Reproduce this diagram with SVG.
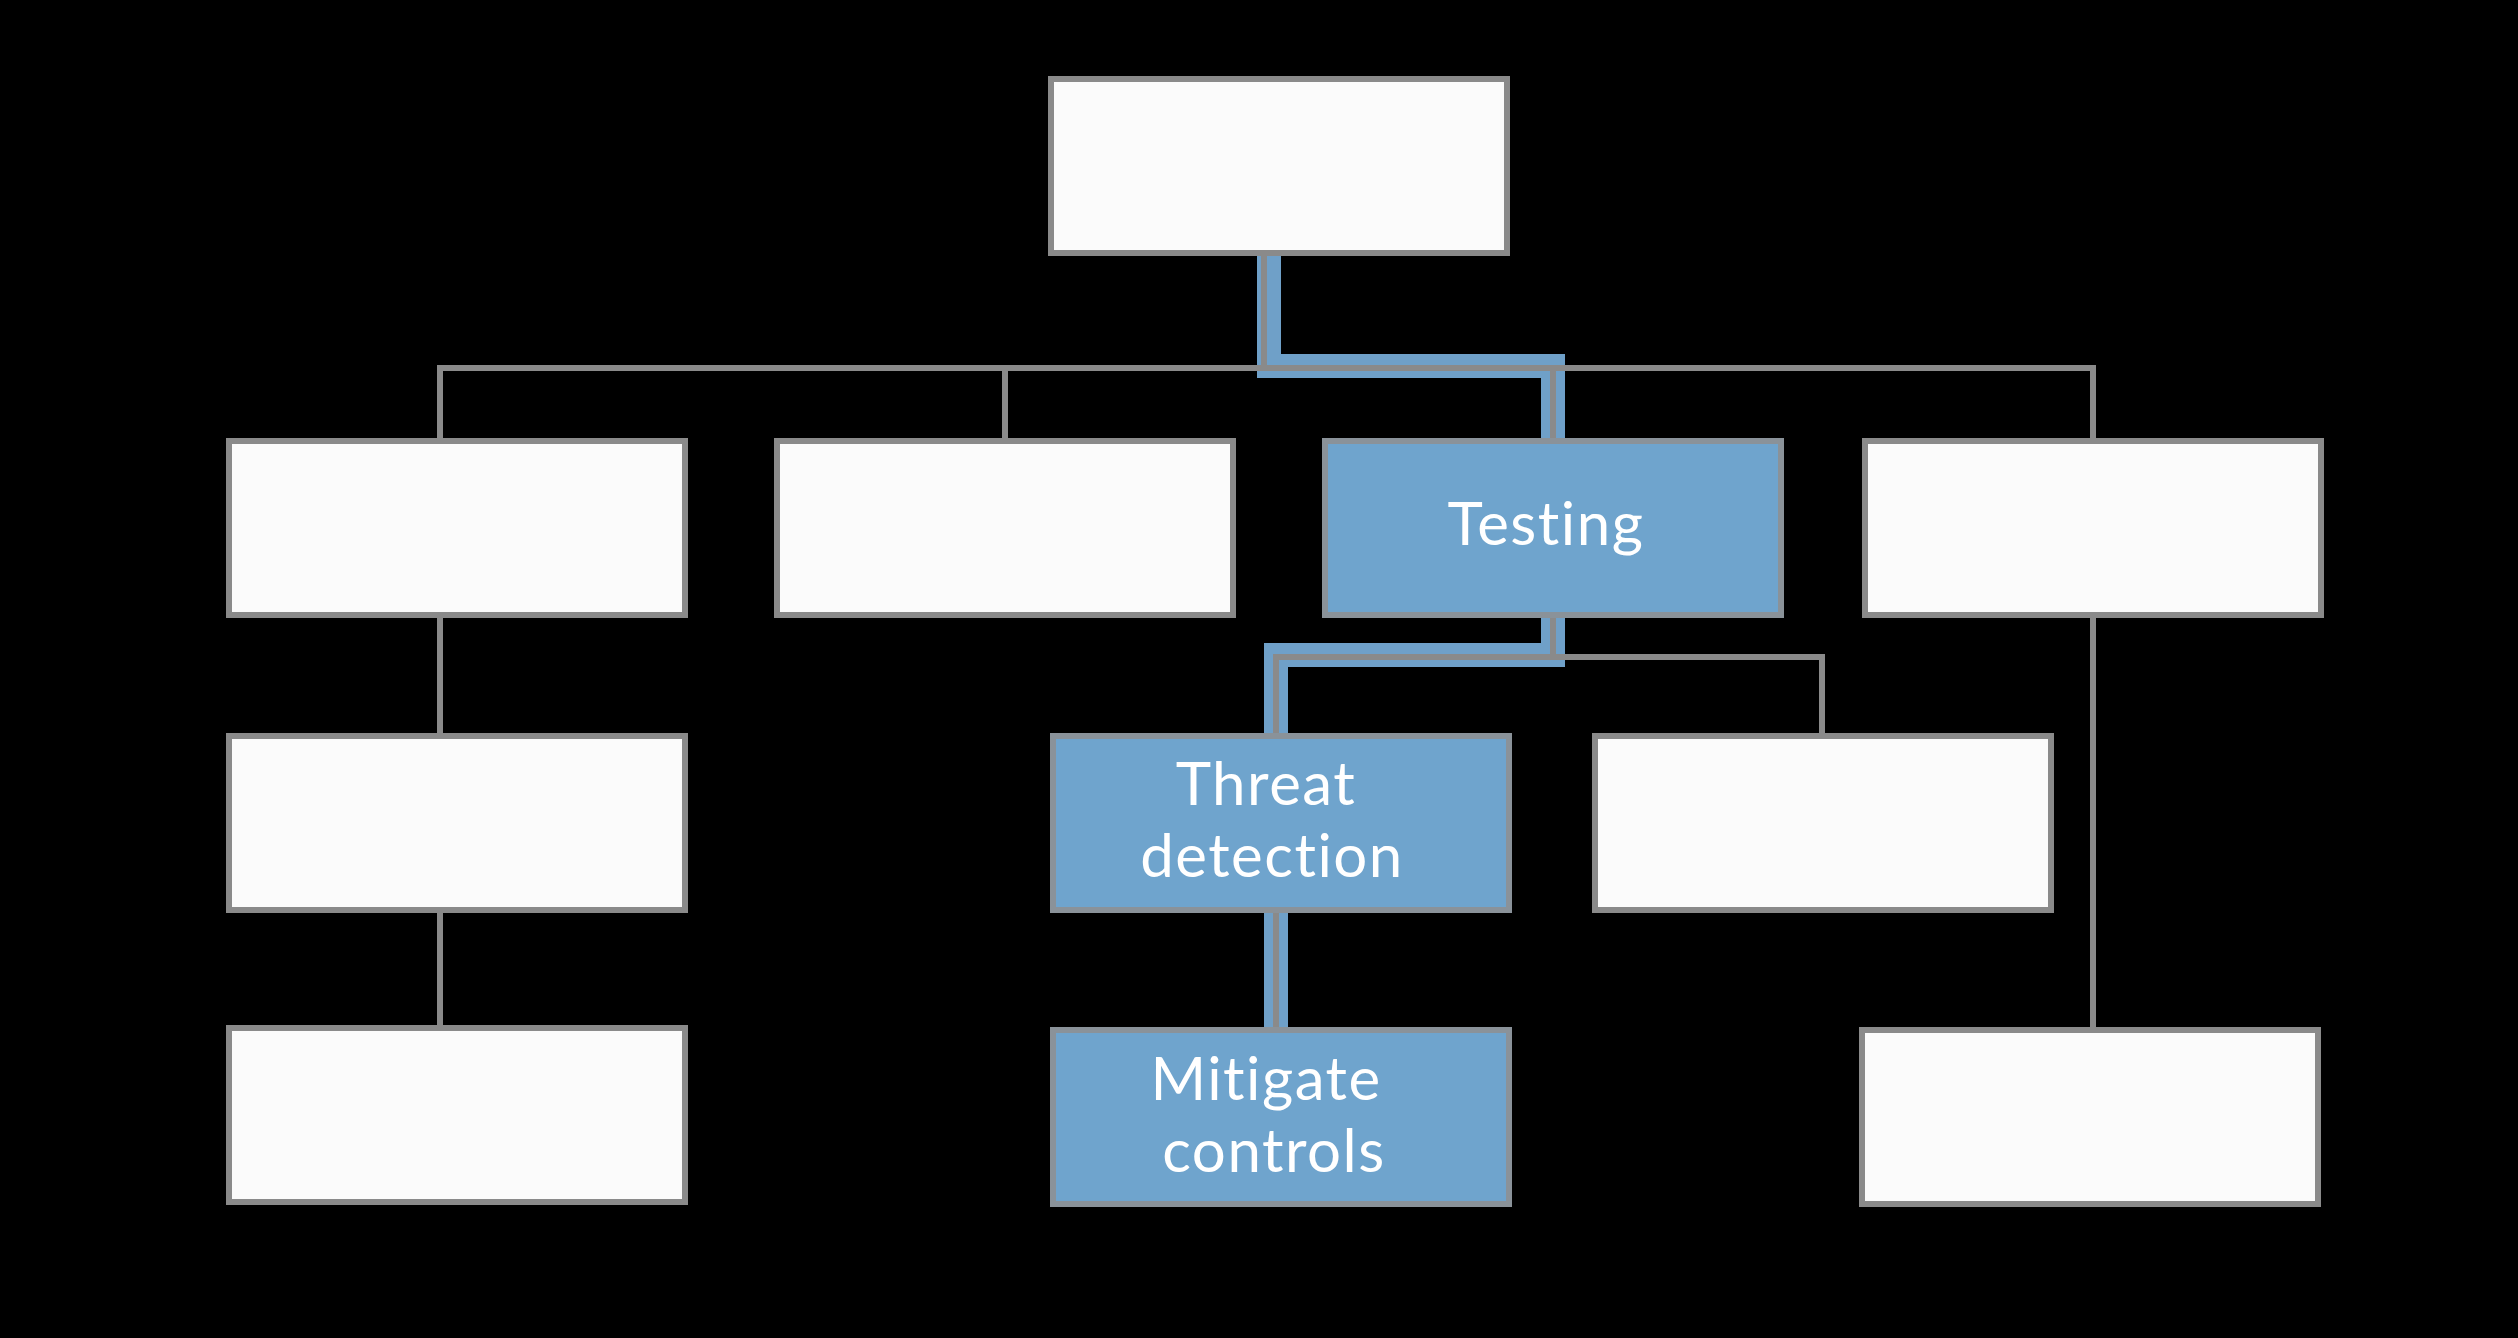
<svg xmlns="http://www.w3.org/2000/svg" width="2518" height="1338" viewBox="0 0 2518 1338">
<style>
.box{fill:#fbfbfb;stroke:#8a8a8a;stroke-width:6}
.hl{fill:#6fa4cd;stroke:#8a9299;stroke-width:6}
.ln{fill:none;stroke:#8a8a8a;stroke-width:6}
.bl{fill:none;stroke:#6fa0c8;stroke-width:24;stroke-linejoin:miter}
.t{font-family:Lato,"Open Sans","Liberation Sans",sans-serif;font-size:60px;fill:#ffffff;text-anchor:middle;font-variant-ligatures:none;letter-spacing:1.5px}
</style>
<rect width="2518" height="1338" fill="#000"/>
<g id="connectors">
<polyline class="bl" points="1269,254 1269,366 1553,366 1553,438"/>
<polyline class="bl" points="1553,615 1553,655 1276,655 1276,734"/>
<line class="bl" x1="1276" y1="911" x2="1276" y2="1028"/>
<line class="ln" x1="1264" y1="254" x2="1264" y2="368"/>
<line class="ln" x1="440" y1="368" x2="2093" y2="368"/>
<line class="ln" x1="440" y1="365" x2="440" y2="438"/>
<line class="ln" x1="1005" y1="365" x2="1005" y2="438"/>
<line class="ln" x1="1553" y1="365" x2="1553" y2="438"/>
<line class="ln" x1="2093" y1="365" x2="2093" y2="438"/>
<line class="ln" x1="1553" y1="615" x2="1553" y2="657"/>
<line class="ln" x1="1276" y1="657" x2="1822" y2="657"/>
<line class="ln" x1="1276" y1="654" x2="1276" y2="734"/>
<line class="ln" x1="1822" y1="654" x2="1822" y2="734"/>
<line class="ln" x1="1276" y1="911" x2="1276" y2="1028"/>
<line class="ln" x1="440" y1="615" x2="440" y2="734"/>
<line class="ln" x1="440" y1="911" x2="440" y2="1028"/>
<line class="ln" x1="2093" y1="615" x2="2093" y2="1028"/>
</g>
<g id="n-root"><rect class="box" x="1051" y="79" width="456" height="174"/></g>
<g id="n-b1"><rect class="box" x="229" y="441" width="456" height="174"/></g>
<g id="n-b2"><rect class="box" x="777" y="441" width="456" height="174"/></g>
<g id="n-testing"><rect class="hl" x="1325" y="441" width="456" height="174"/><text class="t" x="1546" y="545">Testing</text></g>
<g id="n-b4"><rect class="box" x="1865" y="441" width="456" height="174"/></g>
<g id="n-b5"><rect class="box" x="229" y="736" width="456" height="174"/></g>
<g id="n-threat"><rect class="hl" x="1053" y="736" width="456" height="174"/><text class="t"><tspan x="1266" y="805">Threat</tspan><tspan x="1272" y="877">detection</tspan></text></g>
<g id="n-b7"><rect class="box" x="1595" y="736" width="456" height="174"/></g>
<g id="n-b8"><rect class="box" x="229" y="1028" width="456" height="174"/></g>
<g id="n-mitigate"><rect class="hl" x="1053" y="1030" width="456" height="174"/><text class="t"><tspan x="1266" y="1100">Mitigate</tspan><tspan x="1274" y="1172">controls</tspan></text></g>
<g id="n-b10"><rect class="box" x="1862" y="1030" width="456" height="174"/></g>
</svg>
